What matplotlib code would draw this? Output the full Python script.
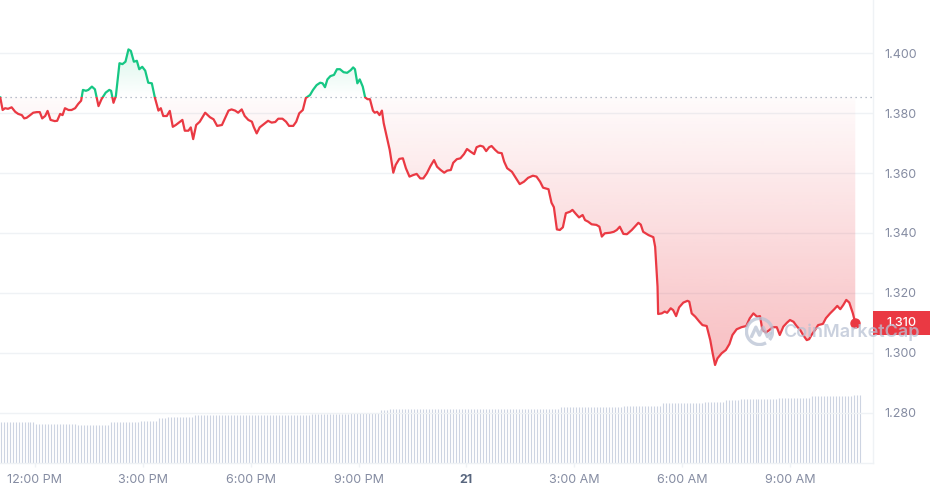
import matplotlib
matplotlib.use("Agg")
import matplotlib.pyplot as plt
import matplotlib.transforms as mtransforms
import matplotlib.colors as mcolors
import numpy as np
from matplotlib.patches import Rectangle, Arc
from matplotlib.path import Path

plt.rcParams["font.family"] = ["Inter", "DejaVu Sans"]

# price series: minutes after 11:00 AM on the 20th, price in USD
minutes = [
    2, 6, 10, 15, 21, 27, 32, 38, 42, 46, 52, 57, 63, 68, 72, 77, 81, 86, 93, 97,
    102, 106, 110, 116, 121, 127, 132, 137, 140, 145, 149, 155, 160, 166, 171, 178,
    184, 187, 191, 195, 201, 206, 211, 216, 220, 225, 230, 234, 239, 244, 249, 255,
    260, 266, 270, 274, 280, 285, 290, 295, 302, 306, 310, 316, 320, 324, 329, 335,
    344, 352, 358, 364, 372, 377, 383, 388, 394, 399, 405, 410, 416, 422, 425, 430,
    435, 444, 449, 455, 461, 466, 473, 479, 484, 491, 496, 501, 507, 512, 519, 524,
    530, 536, 540, 544, 548, 553, 559, 564, 569, 575, 581, 587, 591, 594, 598, 602,
    607, 611, 615, 619, 624, 627, 631, 635, 639, 642, 647, 652, 658, 662, 668, 674,
    679, 685, 691, 697, 703, 708, 714, 720, 726, 731, 737, 743, 748, 754, 758, 764,
    770, 776, 781, 787, 793, 797, 803, 808, 813, 818, 822, 828, 833, 839, 843, 848,
    856, 863, 869, 876, 883, 891, 897, 903, 908, 917, 922, 926, 931, 936, 941, 946,
    953, 957, 963, 968, 974, 978, 983, 989, 997, 1002, 1006, 1011, 1020, 1026, 1031, 1036,
    1042, 1048, 1056, 1061, 1067, 1071, 1075, 1084, 1092, 1095, 1099, 1100, 1106, 1111, 1115, 1121,
    1125, 1130, 1135, 1142, 1149, 1152, 1156, 1162, 1169, 1174, 1181, 1187, 1191, 1195, 1199, 1206,
    1213, 1219, 1224, 1231, 1239, 1247, 1253, 1259, 1265, 1270, 1274, 1280, 1286, 1291, 1298, 1303,
    1309, 1315, 1320, 1326, 1331, 1337, 1342, 1348, 1352, 1356, 1362, 1367, 1375, 1380, 1387, 1394,
    1399, 1404, 1409, 1414, 1419, 1425, 1429,
]
prices = [
    1.3852, 1.3810, 1.3816, 1.3814, 1.3819, 1.3804, 1.3797, 1.3793, 1.3782, 1.3784,
    1.3793, 1.3801, 1.3803, 1.3803, 1.3782, 1.3790, 1.3807, 1.3777, 1.3773, 1.3774,
    1.3797, 1.3793, 1.3816, 1.3810, 1.3810, 1.3816, 1.3830, 1.3841, 1.3877, 1.3874,
    1.3877, 1.3888, 1.3879, 1.3823, 1.3846, 1.3868, 1.3877, 1.3874, 1.3834, 1.3857,
    1.3966, 1.3963, 1.3971, 1.4012, 1.4007, 1.3971, 1.3974, 1.3946, 1.3954, 1.3941,
    1.3901, 1.3899, 1.3852, 1.3808, 1.3816, 1.3790, 1.3790, 1.3807, 1.3754, 1.3760,
    1.3771, 1.3777, 1.3741, 1.3741, 1.3752, 1.3713, 1.3760, 1.3771, 1.3801, 1.3786,
    1.3779, 1.3757, 1.3760, 1.3782, 1.3808, 1.3812, 1.3808, 1.3801, 1.3812, 1.3790,
    1.3777, 1.3771, 1.3754, 1.3732, 1.3752, 1.3766, 1.3774, 1.3768, 1.3770, 1.3781,
    1.3781, 1.3771, 1.3757, 1.3757, 1.3771, 1.3799, 1.3810, 1.3850, 1.3860, 1.3877,
    1.3893, 1.3901, 1.3899, 1.3886, 1.3912, 1.3923, 1.3927, 1.3946, 1.3946, 1.3936,
    1.3934, 1.3943, 1.3952, 1.3946, 1.3899, 1.3912, 1.3888, 1.3852, 1.3846, 1.3846,
    1.3808, 1.3801, 1.3804, 1.3793, 1.3808, 1.3766, 1.3721, 1.3677, 1.3601, 1.3627,
    1.3647, 1.3649, 1.3616, 1.3588, 1.3593, 1.3597, 1.3582, 1.3582, 1.3599, 1.3623,
    1.3643, 1.3621, 1.3610, 1.3601, 1.3608, 1.3610, 1.3634, 1.3646, 1.3649, 1.3663,
    1.3680, 1.3671, 1.3663, 1.3686, 1.3691, 1.3688, 1.3673, 1.3686, 1.3690, 1.3677,
    1.3668, 1.3666, 1.3638, 1.3616, 1.3604, 1.3582, 1.3563, 1.3571, 1.3584, 1.3591,
    1.3588, 1.3571, 1.3551, 1.3546, 1.3501, 1.3486, 1.3412, 1.3410, 1.3419, 1.3466,
    1.3471, 1.3477, 1.3463, 1.3452, 1.3460, 1.3443, 1.3438, 1.3429, 1.3427, 1.3421,
    1.3388, 1.3399, 1.3401, 1.3404, 1.3410, 1.3421, 1.3397, 1.3396, 1.3410, 1.3421,
    1.3434, 1.3428, 1.3404, 1.3393, 1.3386, 1.3354, 1.3221, 1.3130, 1.3132, 1.3138,
    1.3134, 1.3149, 1.3143, 1.3123, 1.3152, 1.3168, 1.3174, 1.3171, 1.3132, 1.3121,
    1.3104, 1.3093, 1.3090, 1.3043, 1.2999, 1.2960, 1.2982, 1.2999, 1.3010, 1.3030,
    1.3060, 1.3079, 1.3086, 1.3090, 1.3116, 1.3132, 1.3121, 1.3123, 1.3077, 1.3068,
    1.3077, 1.3086, 1.3086, 1.3060, 1.3088, 1.3101, 1.3110, 1.3104, 1.3090, 1.3077,
    1.3060, 1.3043, 1.3046, 1.3060, 1.3077, 1.3093, 1.3097, 1.3116, 1.3132, 1.3146,
    1.3157, 1.3146, 1.3160, 1.3177, 1.3168, 1.3132, 1.3100,
]
open_price = 1.3852
last_label = "1.310"

# volume bars every 5 minutes, stored as runs of equal height (millions)
vol_runs = [12, 14, 11, 10, 6, 3, 9, 39, 13, 10, 3, 6, 51, 21, 13, 14, 7, 5, 13, 11, 14, 3]
vol_levels = [4.10, 3.90, 3.80, 4.10, 4.23, 4.47, 4.57, 4.77, 4.87, 4.97, 5.27,
              5.37, 5.45, 5.60, 5.73, 6.00, 6.14, 6.34, 6.45, 6.55, 6.75, 6.85]

tick_minutes = [60, 240, 420, 600, 780, 960, 1140, 1320]
tick_labels = ["12:00 PM", "3:00 PM", "6:00 PM", "9:00 PM", "21", "3:00 AM", "6:00 AM", "9:00 AM"]
price_ticks = [1.28, 1.30, 1.32, 1.34, 1.36, 1.38, 1.40]

RED = "#ea3943"
GREEN = "#16c784"
GREY_TXT = "#858ca2"
GRID = "#eff2f5"

t = np.array(minutes, dtype=float)
p = np.array(prices)
vol = np.repeat(vol_levels, vol_runs)
vol_t = np.arange(len(vol)) * 5 + 2.5

xmin, xmax = 1.6, 1458.6
ymin, ymax = 1.26333, 1.41767

fig = plt.figure(figsize=(9.3, 4.95), dpi=100)
pos = [0, 32 / 495, 873 / 930, 463 / 495]
ax_vol = fig.add_axes(pos)
ax = fig.add_axes(pos, sharex=ax_vol)
ax.patch.set_visible(False)

# volume, one thin line per 5-minute bar
vl = ax_vol.vlines(vol_t, 0, vol, colors="#cdd4e2", linewidth=0.8)
vl.set_snap(True)
ax_vol.set_ylim(0, 46.3)
ax_vol.axis("off")

ax.set_yticks(price_ticks)
ax.grid(axis="y", color=GRID, linewidth=1)
ax.set_axisbelow(True)


def gradient_fill(coll, color, y0, y1, a0, a1):
    path = Path.make_compound_path(*coll.get_paths())
    coll.remove()
    rgba = np.zeros((200, 1, 4))
    rgba[..., :3] = mcolors.to_rgb(color)
    rgba[:, 0, 3] = np.linspace(a0, a1, 200)
    im = ax.imshow(rgba, extent=[xmin, xmax, y0, y1], origin="lower",
                   aspect="auto", interpolation="bilinear", zorder=1)
    im.set_clip_path(path, transform=ax.transData)


down = ax.fill_between(t, p, open_price, where=p <= open_price, interpolate=True)
gradient_fill(down, RED, p.min(), open_price, 0.33, 0.02)
up = ax.fill_between(t, p, open_price, where=p >= open_price, interpolate=True)
gradient_fill(up, GREEN, open_price, p.max(), 0.0, 0.16)

ax.axhline(open_price, color="#a3aabb", linewidth=0.9, linestyle=(0, (1, 3)), zorder=2)

line_up, = ax.plot(t, p, color=GREEN, linewidth=1.6, zorder=3, solid_joinstyle="round")
line_dn, = ax.plot(t, p, color=RED, linewidth=1.6, zorder=3, solid_joinstyle="round")
line_up.set_clip_path(Rectangle((0, open_price), 3000, 1, transform=ax.transData))
line_dn.set_clip_path(Rectangle((0, open_price - 1), 3000, 1, transform=ax.transData))
ax.plot(t[-1:], p[-1:], "o", color=RED, markersize=6.5, zorder=4)

ax.set_xlim(xmin, xmax)
ax.set_ylim(ymin, ymax)

ax.yaxis.tick_right()
ax.set_yticklabels([f"{v:.3f}" for v in price_ticks])
ax.tick_params(axis="y", length=0, pad=8, labelsize=9, labelcolor=GREY_TXT)
ax.set_xticks(tick_minutes)
ax.set_xticklabels(tick_labels)
ax.tick_params(axis="x", length=3, width=1, color=GRID, pad=5, labelsize=9, labelcolor=GREY_TXT)
for lab in ax.get_xticklabels():
    if lab.get_text() == "21":
        lab.set_fontweight("bold")
        lab.set_color("#58667e")

for side in ["left", "top"]:
    ax.spines[side].set_visible(False)
for side in ["right", "bottom"]:
    ax.spines[side].set_color(GRID)
    ax.spines[side].set_linewidth(1)

# current price tag on the right axis
blend = mtransforms.blended_transform_factory(ax.transAxes, ax.transData)
tag_h = 0.0077
ax.add_patch(Rectangle((1.0, p[-1] - tag_h / 2), 0.07, tag_h, transform=blend,
                       facecolor=RED, edgecolor="none", clip_on=False, zorder=5))
ax.text(1.0327, p[-1], last_label, transform=blend, ha="center", va="center",
        color="white", fontsize=9, fontweight="medium", zorder=6, clip_on=False)

# watermark
ax.text(0.897, 0.283, "CoinMarketCap", transform=ax.transAxes, ha="left", va="center",
        fontsize=13, fontweight="semibold", color="#b9c2d4", alpha=0.75,
        zorder=7, clip_on=False)
logo = fig.add_axes([745 / 930, (495 - 346) / 495, 29 / 930, 29 / 495])
logo.set_xlim(-1, 1)
logo.set_ylim(-1, 1)
logo.axis("off")
logo.add_patch(Arc((0, 0), 1.8, 1.8, theta1=-40, theta2=300, color="#b9c2d4",
                   linewidth=2.4, alpha=0.75))
logo.plot([-0.55, -0.25, 0.0, 0.25, 0.55, 0.75], [-0.35, 0.3, -0.25, 0.3, -0.35, -0.1],
          color="#b9c2d4", linewidth=2.4, alpha=0.75, solid_capstyle="round")

fig.savefig("out.png", dpi=100)
